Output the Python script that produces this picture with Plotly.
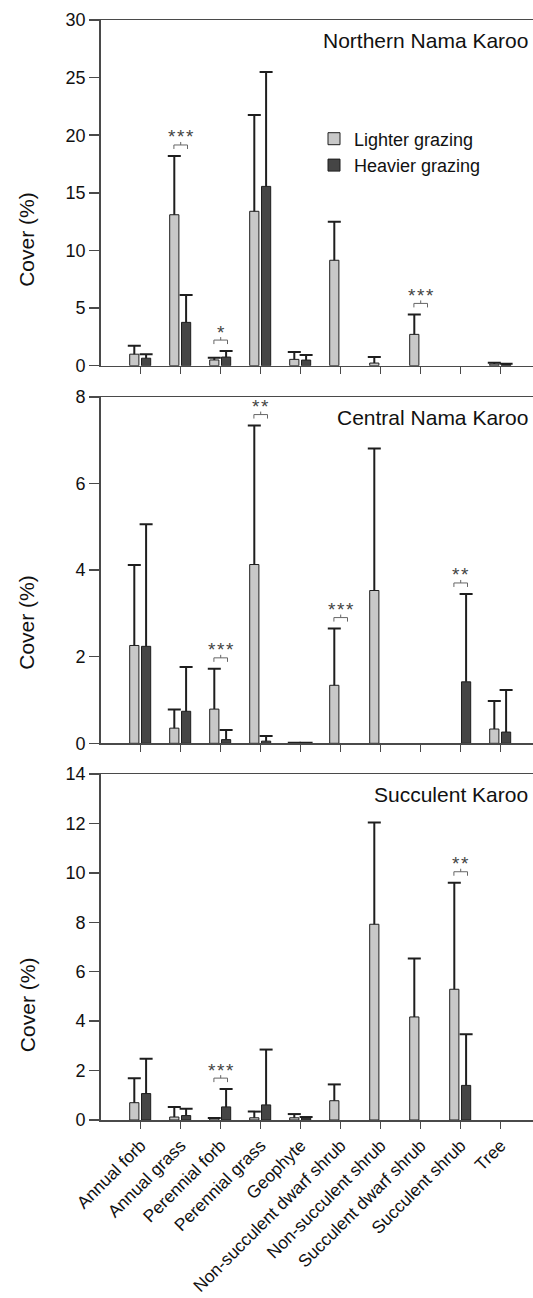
import plotly.graph_objects as go

categories = ["Annual forb", "Annual grass", "Perennial forb", "Perennial grass", "Geophyte",
              "Non-succulent dwarf shrub", "Non-succulent shrub", "Succulent dwarf shrub",
              "Succulent shrub", "Tree"]
regions = ["Northern Nama Karoo", "Central Nama Karoo", "Succulent Karoo"]

# mean cover (%) and SD, lighter grazing / heavier grazing
north_light_mean = [1.0, 13.1, 0.5, 13.4, 0.55, 9.15, 0.23, 2.72, None, 0.14]
north_light_sd = [0.74, 5.1, 0.19, 8.35, 0.64, 3.35, 0.52, 1.73, None, 0.12]
north_heavy_mean = [0.65, 3.76, 0.75, 15.56, 0.49, None, None, None, None, 0.10]
north_heavy_sd = [0.35, 2.37, 0.52, 9.92, 0.44, None, None, None, None, 0.07]

central_light_mean = [2.26, 0.35, 0.79, 4.13, 0.01, 1.34, 3.53, None, None, 0.33]
central_light_sd = [1.86, 0.43, 0.93, 3.21, 0.0, 1.31, 3.28, None, None, 0.65]
central_heavy_mean = [2.24, 0.74, 0.085, 0.05, 0.01, None, None, None, 1.42, 0.26]
central_heavy_sd = [2.82, 1.02, 0.225, 0.12, 0.0, None, None, None, 2.03, 0.97]

succ_light_mean = [0.70, 0.12, 0.06, 0.09, 0.09, 0.78, 7.92, 4.17, 5.29, None]
succ_light_sd = [0.99, 0.41, 0.02, 0.25, 0.15, 0.66, 4.12, 2.36, 4.31, None]
succ_heavy_mean = [1.07, 0.18, 0.53, 0.61, 0.08, None, None, None, 1.40, None]
succ_heavy_sd = [1.41, 0.28, 0.72, 2.24, 0.04, None, None, None, 2.07, None]

north_sig = [(1, "***"), (2, "*"), (7, "***")]
central_sig = [(2, "***"), (3, "**"), (5, "***"), (8, "**")]
succ_sig = [(2, "***"), (8, "**")]

y_max = [30, 8, 14]
y_dtick = [5, 2, 2]

panels = [
    (north_light_mean, north_light_sd, north_heavy_mean, north_heavy_sd, north_sig),
    (central_light_mean, central_light_sd, central_heavy_mean, central_heavy_sd, central_sig),
    (succ_light_mean, succ_light_sd, succ_heavy_mean, succ_heavy_sd, succ_sig),
]

# ---- layout geometry (pixels) ----
W, H = 533, 1298
left_px = 100.7
top_px = [20, 397, 774]
bot_px = [365.7, 743.3, 1120]
ytitle_frac = [0.364, 0.348, 0.332]

FONT = "Liberation Sans, Arial, Helvetica, sans-serif"
LIGHT = "#c8c8c8"
HEAVY = "#454545"
EDGE = "#1e1e1e"
AXIS = "#4a4a4a"

BAR_W = 0.23
OFFS = [-0.275, 0.02]

fig = go.Figure()
layout = dict(
    width=W, height=H, autosize=False,
    margin=dict(l=0, r=0, t=0, b=0),
    paper_bgcolor="white", plot_bgcolor="white",
    font=dict(family=FONT, color="#111", size=17),
    barmode="overlay",
    showlegend=True,
    legend=dict(x=314 / W, xanchor="left", y=(H - 152) / H, yanchor="middle",
                font=dict(size=18, family=FONT, color="#111"), bgcolor="rgba(0,0,0,0)",
                itemwidth=30, tracegroupgap=0),
    annotations=[], shapes=[],
)

for p, (lm, ls, hm, hs, sig) in enumerate(panels):
    xa = "x" if p == 0 else f"x{p+1}"
    ya = "y" if p == 0 else f"y{p+1}"
    xkey = "xaxis" if p == 0 else f"xaxis{p+1}"
    ykey = "yaxis" if p == 0 else f"yaxis{p+1}"

    for j, (mean, sd, col, name) in enumerate([(lm, ls, LIGHT, "Lighter grazing"),
                                              (hm, hs, HEAVY, "Heavier grazing")]):
        idx = list(range(len(categories)))
        fig.add_trace(go.Bar(
            x=idx, y=mean, xaxis=xa, yaxis=ya,
            offset=OFFS[j], width=BAR_W,
            marker=dict(color=col, line=dict(color=EDGE, width=1)),
            error_y=dict(type="data", array=sd, arrayminus=[0 if s is not None else None for s in sd],
                         symmetric=False, color=EDGE, thickness=2, width=0),
            name=name, legendgroup=name, showlegend=(p == 0),
            hoverinfo="skip",
        ))
        cx = [i + OFFS[j] + BAR_W / 2 for i, m in enumerate(mean) if m is not None]
        cy = [m + s for m, s in zip(mean, sd) if m is not None]
        fig.add_trace(go.Scatter(
            x=cx, y=cy, xaxis=xa, yaxis=ya, mode="markers",
            marker=dict(symbol="line-ew", size=9.3, line=dict(color=EDGE, width=2)),
            showlegend=False, hoverinfo="skip",
        ))

    d0 = (H - bot_px[p]) / H
    d1 = (H - top_px[p]) / H
    layout[xkey] = dict(
        domain=[left_px / W, 1], anchor=ya, range=[-1, (W - left_px) / 40.0 - 1],
        tickmode="array", tickvals=list(range(len(categories))), ticktext=categories,
        showticklabels=(p == 2), tickangle=-45, tickfont=dict(size=17.4, family=FONT, color="#111"),
        ticks="outside", ticklen=7, tickwidth=1.5, tickcolor=AXIS,
        showline=True, linecolor=AXIS, linewidth=1.5, mirror=True,
        showgrid=False, zeroline=False, automargin=False, fixedrange=True,
    )
    layout[ykey] = dict(
        domain=[d0, d1], anchor=xa, range=[0, y_max[p]], dtick=y_dtick[p], tick0=0,
        ticks="outside", ticklen=10, tickwidth=1.5, tickcolor=AXIS,
        tickfont=dict(size=18, family=FONT, color="#111"),
        showline=True, linecolor=AXIS, linewidth=1.5, mirror=False,
        showgrid=False, zeroline=False, automargin=False, fixedrange=True,
    )
    # panel title
    layout["annotations"].append(dict(
        text=regions[p], xref="paper", x=1, xanchor="right", xshift=-3,
        yref=f"{ya} domain", y=1, yanchor="middle", yshift=-20,
        showarrow=False, font=dict(size=21, family=FONT, color="#111"),
    ))
    # y-axis title
    layout["annotations"].append(dict(
        text="Cover (%)", xref="paper", x=27 / W, xanchor="center",
        yref=f"{ya} domain", y=ytitle_frac[p], yanchor="middle", textangle=-90,
        showarrow=False, font=dict(size=21, family=FONT, color="#111"),
    ))
    # significance brackets
    ppu = (bot_px[p] - top_px[p]) / y_max[p]
    for ci, stars in sig:
        tops = [m + s for m, s in [(lm[ci], ls[ci]), (hm[ci], hs[ci])] if m is not None]
        base = max(tops)
        yb = base + 7 / ppu
        yt = base + 11 / ppu
        ym = base + 14 / ppu
        x0, x1 = ci - 0.17, ci + 0.17
        layout["shapes"].append(dict(
            type="path", xref=xa, yref=ya,
            path=f"M {x0},{yb} L {x0},{yt} L {x1},{yt} L {x1},{yb} M {ci},{yt} L {ci},{ym}",
            line=dict(color="#666666", width=1),
        ))
        layout["annotations"].append(dict(
            text="\u200a".join(stars), xref=xa, x=ci, yref=ya, y=base + 19 / ppu,
            xanchor="center", yanchor="middle", showarrow=False,
            font=dict(size=19, family=FONT, color="#444"),
        ))

fig.update_layout(**layout)
fig.write_html(
    "out.html",
    config={"displayModeBar": False, "staticPlot": True},
    post_script="document.body.style.margin='0';document.body.style.overflow='hidden';",
)
